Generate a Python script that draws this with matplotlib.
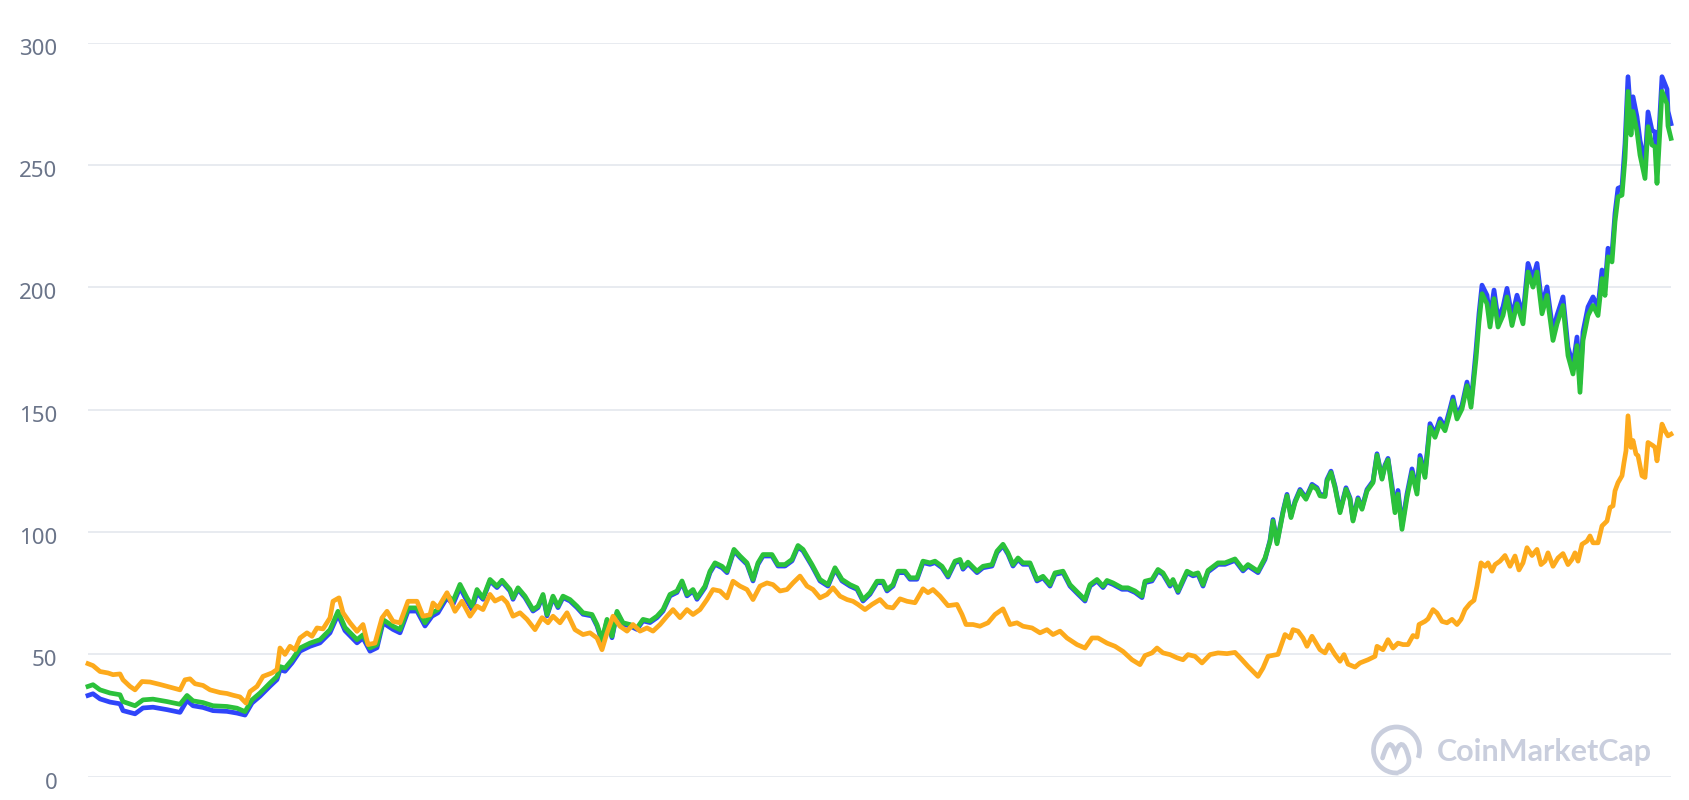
import matplotlib
matplotlib.use("Agg")
import matplotlib.pyplot as plt
from matplotlib.transforms import offset_copy
from matplotlib.patches import Arc, PathPatch
from matplotlib.path import Path

# ---------------- data (x = day index) ----------------
green_days = [0, 5, 12, 22, 32, 35, 47, 55, 65, 79, 92, 99, 105, 115, 125, 139, 149, 157, 164, 172,
              182, 189, 192, 197, 204, 212, 222, 232, 242, 250, 257, 269, 275, 282, 289, 295, 305, 312, 320, 329,
              337, 344, 350, 359, 365, 372, 379, 384, 389, 395, 402, 409, 414, 422, 425, 430, 437, 445, 450, 455,
              459, 465, 470, 475, 482, 489, 495, 504, 509, 514, 519, 524, 529, 535, 542, 549, 555, 562, 569, 575,
              582, 589, 594, 599, 605, 609, 617, 622, 627, 634, 639, 646, 652, 659, 665, 670, 675, 684, 690, 697,
              704, 710, 715, 724, 732, 740, 747, 754, 762, 769, 775, 782, 789, 795, 799, 805, 810, 817, 822, 829,
              835, 842, 847, 854, 860, 867, 872, 875, 880, 889, 895, 904, 909, 915, 920, 925, 930, 935, 942, 949,
              955, 962, 967, 975, 982, 990, 997, 1002, 1009, 1015, 1019, 1025, 1034, 1040, 1047, 1054, 1057, 1064, 1070, 1075,
              1082, 1085, 1090, 1099, 1105, 1110, 1115, 1120, 1130, 1137, 1147, 1155, 1160, 1170, 1177, 1182, 1185, 1189, 1195, 1199,
              1203, 1207, 1212, 1218, 1224, 1229, 1232, 1237, 1239, 1243, 1247, 1252, 1258, 1262, 1265, 1270, 1274, 1279, 1285, 1289,
              1294, 1297, 1300, 1304, 1307, 1310, 1314, 1319, 1324, 1329, 1332, 1337, 1342, 1347, 1352, 1357, 1362, 1365, 1369, 1374,
              1379, 1383, 1388, 1391, 1394, 1399, 1402, 1406, 1410, 1415, 1419, 1424, 1429, 1435, 1440, 1445, 1449, 1454, 1459, 1465,
              1469, 1475, 1480, 1485, 1489, 1492, 1495, 1500, 1505, 1510, 1514, 1517, 1520, 1524, 1527, 1530, 1534, 1537, 1540, 1543,
              1545, 1549, 1552, 1557, 1560, 1564, 1567, 1569, 1574, 1579, 1580, 1583]

green_vals = [36.9, 37.6, 35.5, 34.2, 33.5, 30.7, 29.0, 31.4, 31.7, 30.7, 29.6, 33.2, 31.0, 30.3, 29.0, 28.7, 28.0, 26.6, 31.4, 34.2,
              38.3, 41.0, 45.0, 44.4, 47.8, 52.6, 54.6, 56.0, 60.1, 67.6, 61.0, 56.0, 58.0, 52.6, 54.0, 64.2, 61.5, 60.1, 69.0, 69.0,
              62.9, 66.9, 68.3, 74.5, 71.7, 78.6, 73.1, 69.7, 76.5, 73.1, 80.6, 77.9, 80.3, 76.5, 73.1, 77.2, 73.8, 68.3, 69.7, 74.5,
              66.3, 73.8, 69.7, 73.8, 72.4, 69.7, 67.0, 66.3, 62.2, 56.0, 64.3, 57.4, 67.6, 62.9, 62.2, 60.8, 64.3, 63.6, 65.6, 68.3,
              74.5, 75.9, 80.0, 74.5, 76.5, 73.1, 77.9, 84.0, 87.4, 86.0, 84.0, 92.9, 90.2, 87.4, 80.6, 87.4, 90.8, 90.8, 86.7, 86.7,
              88.8, 94.5, 92.9, 86.7, 80.6, 78.5, 85.4, 80.6, 78.5, 77.2, 72.4, 75.2, 79.9, 79.9, 76.5, 78.5, 84.0, 84.0, 81.3, 81.3,
              88.1, 87.4, 88.1, 86.0, 82.2, 88.1, 88.8, 85.4, 87.7, 84.0, 86.0, 86.7, 92.2, 95.0, 91.5, 86.7, 89.4, 87.4, 87.4, 80.6,
              81.9, 78.5, 83.3, 84.0, 78.5, 75.2, 72.4, 78.5, 80.6, 77.9, 80.2, 79.2, 77.2, 77.2, 75.9, 73.8, 79.9, 80.6, 84.7, 83.3,
              78.5, 80.6, 75.9, 84.0, 82.7, 83.3, 78.5, 84.3, 87.4, 87.4, 89.0, 84.7, 86.7, 84.0, 89.4, 96.0, 104.5, 95.2, 107.9, 114.8,
              105.9, 112.0, 116.8, 113.4, 118.9, 117.5, 114.8, 114.5, 120.9, 124.3, 118.2, 107.9, 117.5, 113.4, 104.5, 113.4, 109.3, 116.8, 120.2, 131.4,
              121.6, 126.8, 129.5, 117.5, 107.9, 115.5, 101.1, 114.1, 124.3, 115.5, 129.8, 122.3, 142.8, 138.7, 144.8, 141.4, 148.9, 153.7, 146.2, 150.3,
              159.8, 151.0, 170.8, 185.8, 197.4, 193.3, 183.8, 195.4, 183.8, 188.5, 196.1, 184.4, 193.3, 185.1, 206.3, 200.1, 206.3, 189.2, 196.7, 178.3,
              185.1, 192.6, 172.1, 164.6, 176.2, 157.1, 178.3, 188.5, 192.6, 188.5, 203.6, 196.7, 212.5, 210.4, 226.8, 237.0, 237.7, 252.7, 280.1, 262.3,
              271.9, 263.7, 254.1, 244.5, 265.7, 258.2, 257.5, 242.5, 280.1, 275.0, 266.0, 260.9]

blue_vals = [33.2, 33.9, 31.8, 30.5, 29.8, 27.0, 25.7, 28.1, 28.4, 27.4, 26.3, 31.2, 29.0, 28.3, 27.0, 26.7, 26.0, 25.2, 30.1, 32.9,
             37.0, 39.7, 43.7, 43.1, 46.5, 51.3, 53.3, 54.7, 58.8, 66.3, 59.7, 54.7, 56.7, 51.3, 52.7, 62.9, 60.2, 58.8, 67.7, 67.7,
             61.6, 65.6, 67.0, 73.2, 70.4, 77.3, 71.8, 68.4, 75.2, 72.5, 80.0, 77.3, 79.7, 75.9, 72.5, 76.6, 73.2, 67.7, 69.1, 73.9,
             65.7, 73.2, 69.1, 73.2, 71.8, 69.1, 66.4, 65.7, 61.6, 55.4, 63.7, 56.8, 67.0, 62.3, 61.6, 60.2, 63.7, 63.0, 65.0, 67.7,
             73.9, 75.3, 79.4, 73.9, 75.9, 72.5, 77.3, 83.4, 86.8, 85.4, 83.4, 92.3, 89.6, 86.8, 80.0, 86.8, 90.2, 90.2, 86.1, 86.1,
             88.2, 93.9, 92.3, 86.1, 80.0, 77.9, 84.8, 80.0, 77.9, 76.6, 71.8, 74.6, 79.3, 79.3, 75.9, 77.9, 83.4, 83.4, 80.7, 80.7,
             87.5, 86.8, 87.5, 85.4, 81.6, 87.5, 88.2, 84.8, 87.1, 83.4, 85.4, 86.1, 91.6, 94.4, 90.9, 86.1, 88.8, 86.8, 86.8, 80.0,
             81.3, 77.9, 82.7, 83.4, 77.9, 74.6, 71.8, 77.9, 80.0, 77.3, 79.6, 78.6, 76.6, 76.6, 75.3, 73.2, 79.3, 80.0, 84.1, 82.7,
             77.9, 80.0, 75.3, 83.4, 82.1, 82.7, 77.9, 83.7, 86.8, 86.8, 88.4, 84.1, 86.1, 83.4, 88.8, 96.6, 105.1, 95.8, 108.5, 115.4,
             106.5, 112.6, 117.4, 114.0, 119.5, 118.1, 115.4, 115.1, 121.5, 124.9, 118.8, 108.5, 118.1, 114.0, 105.1, 114.0, 109.9, 117.4, 120.8, 132.0,
             122.2, 127.4, 130.1, 119.0, 109.4, 117.0, 102.6, 115.6, 125.8, 117.0, 131.3, 123.8, 144.3, 140.2, 146.3, 142.9, 150.4, 155.2, 147.7, 151.8,
             161.3, 152.5, 174.3, 189.3, 200.9, 196.8, 187.3, 198.9, 187.3, 192.0, 199.6, 187.9, 196.8, 188.6, 209.8, 203.6, 209.8, 192.7, 200.2, 181.8,
             188.6, 196.1, 175.6, 168.1, 179.7, 160.6, 181.8, 192.0, 196.1, 192.0, 207.1, 200.2, 216.0, 213.9, 230.3, 240.5, 241.2, 258.7, 286.1, 268.3,
             277.9, 269.7, 260.1, 250.5, 271.7, 264.2, 263.5, 248.5, 286.1, 281.0, 272.0, 266.9]

orange_days = [0, 5, 12, 20, 25, 32, 35, 42, 47, 54, 62, 72, 82, 92, 97, 102, 107, 115, 122, 132,
               139, 145, 152, 158, 162, 169, 175, 184, 189, 192, 197, 202, 207, 212, 219, 224, 229, 235, 242, 245,
               251, 255, 262, 269, 275, 280, 287, 294, 299, 305, 312, 320, 329, 335, 342, 345, 350, 359, 367, 374,
               382, 389, 395, 402, 407, 414, 419, 425, 432, 439, 447, 454, 460, 465, 472, 479, 487, 495, 502, 509,
               514, 519, 525, 532, 539, 545, 552, 559, 565, 572, 579, 585, 592, 599, 605, 612, 619, 625, 632, 639,
               645, 652, 659, 665, 672, 679, 685, 692, 699, 705, 712, 719, 725, 732, 739, 745, 752, 759, 765, 770,
               777, 784, 792, 799, 805, 812, 819, 827, 835, 840, 845, 852, 860, 869, 874, 878, 885, 892, 900, 907,
               915, 922, 929, 935, 944, 952, 959, 965, 972, 979, 989, 997, 1004, 1010, 1019, 1027, 1035, 1044, 1052, 1057,
               1064, 1069, 1075, 1082, 1089, 1095, 1100, 1107, 1114, 1122, 1130, 1139, 1147, 1154, 1160, 1170, 1175, 1180, 1190, 1197,
               1202, 1205, 1210, 1215, 1219, 1224, 1232, 1237, 1241, 1247, 1252, 1256, 1260, 1267, 1272, 1280, 1287, 1289, 1295, 1300,
               1305, 1310, 1315, 1320, 1325, 1329, 1331, 1337, 1340, 1345, 1349, 1354, 1359, 1364, 1369, 1373, 1377, 1382, 1386, 1389,
               1393, 1397, 1400, 1404, 1407, 1412, 1417, 1422, 1427, 1431, 1435, 1439, 1444, 1449, 1453, 1457, 1460, 1465, 1470, 1475,
               1480, 1484, 1487, 1490, 1494, 1499, 1502, 1505, 1510, 1514, 1519, 1522, 1525, 1527, 1530, 1534, 1536, 1538, 1540, 1543,
               1545, 1548, 1550, 1554, 1557, 1560, 1565, 1567, 1569, 1574, 1577, 1580, 1583]

orange_vals = [46.2, 45.4, 43.0, 42.4, 41.7, 42.0, 39.6, 36.9, 35.5, 38.9, 38.7, 37.7, 36.6, 35.5, 39.6, 40.0, 38.0, 37.3, 35.5, 34.4,
               34.0, 33.3, 32.6, 30.1, 34.8, 36.9, 41.0, 42.4, 43.8, 52.6, 50.0, 53.3, 51.9, 56.7, 58.8, 57.4, 60.8, 60.4, 64.9, 71.7,
               73.1, 67.0, 62.9, 59.4, 62.2, 54.0, 54.6, 64.9, 67.6, 63.5, 62.9, 71.7, 71.7, 65.6, 66.2, 71.0, 69.0, 75.2, 67.6, 71.7,
               65.6, 69.7, 68.3, 74.5, 71.8, 73.2, 71.1, 65.6, 67.0, 64.3, 60.1, 65.0, 62.9, 65.6, 62.9, 67.0, 60.1, 58.1, 58.8, 56.7,
               51.9, 58.8, 65.6, 61.5, 59.5, 62.2, 59.5, 60.8, 59.5, 62.2, 65.6, 68.3, 65.0, 68.3, 66.3, 68.3, 72.4, 76.5, 75.9, 73.1,
               79.9, 77.9, 76.5, 72.4, 77.9, 79.2, 78.5, 75.9, 76.5, 79.2, 82.0, 77.9, 76.5, 73.1, 74.5, 77.2, 73.8, 72.4, 71.7, 70.4,
               68.3, 70.4, 72.4, 69.4, 69.0, 72.7, 71.7, 71.1, 76.8, 75.2, 76.5, 73.8, 69.9, 70.4, 66.3, 62.2, 62.2, 61.5, 62.9, 66.3,
               68.6, 62.2, 62.9, 61.5, 60.8, 58.8, 60.1, 58.1, 59.5, 56.7, 54.0, 52.6, 56.7, 56.7, 54.6, 53.3, 51.2, 47.8, 45.8, 49.5,
               50.6, 52.6, 50.6, 49.9, 48.6, 47.8, 49.9, 49.2, 46.5, 49.9, 50.6, 50.3, 50.8, 47.8, 45.1, 41.0, 44.4, 49.2, 50.0, 58.1,
               56.7, 60.1, 59.5, 56.7, 53.3, 57.4, 51.9, 50.6, 53.9, 49.9, 47.2, 49.9, 46.0, 44.8, 46.5, 47.8, 49.2, 53.3, 51.9, 56.0,
               52.6, 54.6, 54.0, 54.0, 57.7, 57.1, 62.2, 63.5, 64.5, 68.3, 66.9, 63.5, 62.9, 64.3, 62.2, 64.3, 68.3, 70.8, 72.1, 77.9,
               87.4, 86.0, 87.4, 84.0, 86.7, 88.1, 90.4, 86.0, 90.2, 84.5, 87.4, 93.6, 90.4, 92.9, 86.7, 88.1, 91.5, 86.0, 89.4, 91.2,
               86.7, 88.8, 91.5, 88.1, 95.0, 96.3, 98.4, 95.6, 95.6, 102.5, 104.5, 110.0, 110.7, 116.8, 120.2, 123.0, 128.4, 133.2, 147.5, 134.6,
               137.4, 131.9, 131.2, 123.0, 122.3, 136.6, 135.3, 134.6, 129.1, 144.1, 141.4, 139.3, 140.0]

y_ticks = [0, 50, 100, 150, 200, 250, 300]
y_tick_labels = ["0", "50", "100", "150", "200", "250", "300"]
watermark = "CoinMarketCap"

# ---------------- figure ----------------
W, H, DPI = 1690, 800, 100
fig = plt.figure(figsize=(W / DPI, H / DPI), dpi=DPI)
fig.patch.set_facecolor("white")
ax = fig.add_axes([88 / W, 23.3 / H, 1583 / W, 734 / H])
ax.set_facecolor("white")

BLUE = "#2F45FA"
GREEN = "#2BC13B"
ORANGE = "#FDAA1C"
LW = 3.4

ax.plot(green_days, blue_vals, color=BLUE, lw=LW, solid_joinstyle="round", clip_on=False, zorder=3)
ax.plot(green_days, green_vals, color=GREEN, lw=LW, solid_joinstyle="round", clip_on=False, zorder=4)
ax.plot(orange_days, orange_vals, color=ORANGE, lw=LW, solid_joinstyle="round", clip_on=False, zorder=5)

ax.set_xlim(0, 1583)
ax.set_ylim(0, 300)
ax.set_yticks(y_ticks)
ax.set_yticklabels(y_tick_labels)
ax.set_xticks([])
for s in ax.spines.values():
    s.set_visible(False)
ax.grid(axis="y", color="#E8EBF0", lw=1.4, zorder=0)
ax.set_axisbelow(True)
ax.tick_params(axis="y", length=0, pad=22, labelsize=16, labelcolor="#6A7489")
for lab in ax.get_yticklabels():
    lab.set_fontfamily("Noto Sans")
    lab.set_transform(offset_copy(lab.get_transform(), fig=fig, x=0, y=-4, units="dots"))

# ---------------- watermark ----------------
WM = "#C9CEDD"
cx, cy, r = 1396.5, 800 - 750, 23
arc = Arc((cx, cy), 2 * r, 2 * r, theta1=-20, theta2=275, transform=None,
          color=WM, lw=3.4, zorder=10)
fig.add_artist(arc)
verts = [(cx - 14, cy - 8), (cx - 9, cy + 9), (cx - 5, cy + 9), (cx - 1, cy - 3),
         (cx + 3, cy + 9), (cx + 8, cy + 9), (cx + 12, cy - 7),
         (cx + 14, cy - 14), (cx + 10, cy - 19), (cx + 3, cy - 22)]
codes = [Path.MOVETO, Path.CURVE4, Path.CURVE4, Path.CURVE4,
         Path.CURVE4, Path.CURVE4, Path.CURVE4,
         Path.CURVE4, Path.CURVE4, Path.CURVE4]
fig.add_artist(PathPatch(Path(verts, codes), transform=None, facecolor="none",
                         edgecolor=WM, lw=3.4, capstyle="round", zorder=10))
fig.text(1437 / W, 48 / H, watermark, fontsize=22, fontweight="bold", family="Lato",
         color=WM, ha="left", va="center")

fig.savefig("out.png", dpi=DPI, facecolor="white")
